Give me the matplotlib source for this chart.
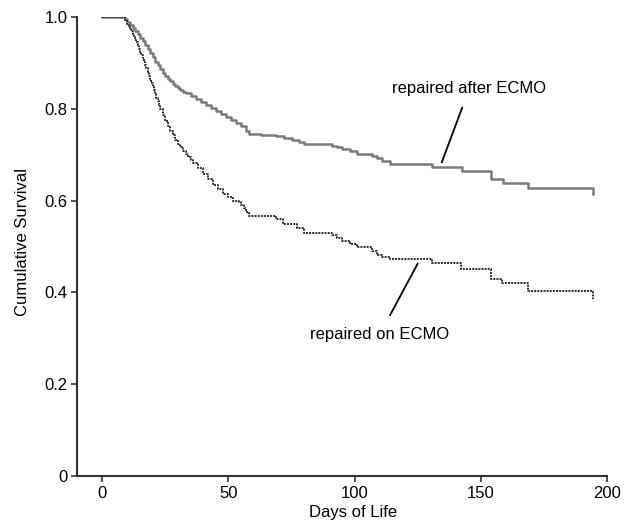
import matplotlib
matplotlib.use('Agg')
import matplotlib.pyplot as plt

plt.rcParams['font.family'] = ['Liberation Sans', 'DejaVu Sans']

# Kaplan-Meier style step curves
days_after = [0, 8, 9, 10, 11, 12, 13, 14, 15, 16, 17, 18, 19, 20, 21, 22, 23, 24, 25,
              26, 27, 28, 29, 30, 31, 32, 33, 35, 37, 39, 41, 43, 45, 47, 49, 51, 53, 55,
              57, 58, 63, 69, 72, 75, 78, 80, 91, 93, 95, 98, 101, 107, 109, 111, 114,
              130.5, 142.5, 154, 158.7, 168.7, 194.4]
surv_after = [1.0, 1.0, 0.995, 0.99, 0.983, 0.977, 0.97, 0.963, 0.955, 0.947, 0.938, 0.93,
              0.921, 0.912, 0.903, 0.895, 0.887, 0.879, 0.872, 0.866, 0.86, 0.855, 0.85,
              0.845, 0.841, 0.837, 0.834, 0.829, 0.822, 0.815, 0.809, 0.802, 0.795, 0.789,
              0.782, 0.776, 0.768, 0.762, 0.752, 0.746, 0.744, 0.74, 0.736, 0.733, 0.727,
              0.724, 0.72, 0.716, 0.712, 0.707, 0.702, 0.697, 0.692, 0.686, 0.68, 0.674,
              0.665, 0.648, 0.639, 0.628, 0.615]

days_on = [0, 8, 9, 10, 10.5, 11, 11.5, 12, 12.5, 13, 13.5, 14, 14.5, 15, 15.5, 16, 16.5,
           17, 17.5, 18, 18.5, 19, 19.5, 20, 20.5, 21, 21.5, 22, 22.5, 23, 24, 25, 26,
           27, 28, 29, 30, 31, 32, 33, 34, 35, 36, 38, 40, 42, 44, 46, 48, 50, 52, 54, 55,
           56, 57, 58, 69, 71.5, 77, 80, 91, 93, 95, 98, 101, 107, 109, 111, 114, 130.5,
           142, 154, 158.5, 168.7, 194.4]
surv_on = [1.0, 1.0, 0.993, 0.985, 0.98, 0.975, 0.969, 0.963, 0.957, 0.951, 0.945, 0.938,
           0.931, 0.924, 0.917, 0.91, 0.903, 0.895, 0.888, 0.88, 0.872, 0.864, 0.856,
           0.848, 0.84, 0.832, 0.824, 0.816, 0.808, 0.80, 0.786, 0.774, 0.763, 0.752,
           0.742, 0.733, 0.724, 0.716, 0.709, 0.702, 0.695, 0.689, 0.683, 0.671, 0.659,
           0.647, 0.635, 0.625, 0.615, 0.607, 0.600, 0.596, 0.59, 0.583, 0.575, 0.567,
           0.561, 0.548, 0.54, 0.53, 0.525, 0.518, 0.511, 0.505, 0.498, 0.49, 0.482,
           0.478, 0.472, 0.464, 0.452, 0.43, 0.42, 0.402, 0.385]

yticks = [0, 0.2, 0.4, 0.6, 0.8, 1.0]
ytick_labels = ['0', '0.2', '0.4', '0.6', '0.8', '1.0']
xticks = [0, 50, 100, 150, 200]

fig = plt.figure(figsize=(6.33, 5.25), dpi=100)
ax = fig.add_axes([0.1216, 0.0933, 0.8374, 0.8743])

ax.step(days_after, surv_after, where='post', color='#7a7a7a', lw=1.8)
ax.step(days_on, surv_on, where='post', color='#2a2a2a', lw=1.4, linestyle=(0, (1, 0.6)))

# labels with pointer lines
ax.annotate('repaired after ECMO', xy=(134.5, 0.683), xytext=(145.5, 0.845),
            ha='center', va='center', fontsize=12,
            arrowprops=dict(arrowstyle='-', color='black', lw=1.3, shrinkA=7, shrinkB=0))
ax.annotate('repaired on ECMO', xy=(125, 0.463), xytext=(110, 0.309),
            ha='center', va='center', fontsize=12,
            arrowprops=dict(arrowstyle='-', color='black', lw=1.3, shrinkA=7, shrinkB=0))

ax.set_xlim(-10, 200)
ax.set_ylim(0, 1.0)
ax.set_xticks(xticks)
ax.set_yticks(yticks)
ax.set_yticklabels(ytick_labels)
ax.tick_params(labelsize=12, length=4, width=1.2, color='#333333', pad=3)

for side in ['top', 'right']:
    ax.spines[side].set_visible(False)
for side in ['left', 'bottom']:
    ax.spines[side].set_color('#333333')
    ax.spines[side].set_linewidth(1.5)

ax.set_xlabel('Days of Life', fontsize=12, labelpad=3, x=0.52)
ax.set_ylabel('Cumulative Survival', fontsize=12, labelpad=10, y=0.51)

plt.savefig('out.png', dpi=100)
